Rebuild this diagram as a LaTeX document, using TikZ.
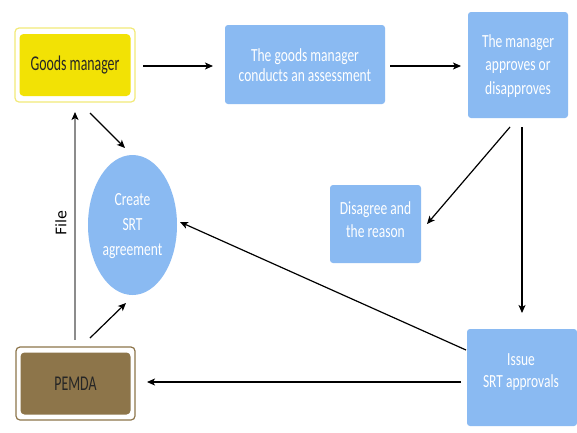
\documentclass[tikz,border=0pt]{standalone}
\usepackage{fontspec}
\setmainfont[FakeStretch=0.73]{Carlito}
\newfontfamily\narrowfont[FakeStretch=0.66]{Carlito}
\newfontfamily\filefont{DejaVu Sans}
\usetikzlibrary{arrows.meta,shapes.geometric}
\definecolor{lblue}{RGB}{138,186,242}
\definecolor{gyellow}{RGB}{242,226,5}
\definecolor{gyellowb}{RGB}{242,234,120}
\definecolor{pbrown}{RGB}{141,117,74}
\definecolor{pbrownb}{RGB}{141,117,74}
\tikzset{
  x=1pt,y=-1pt,
  bluebox/.style={fill=lblue,rounded corners=3pt},
  btext/.style={text=white,align=center,inner sep=0pt},
  arr/.style={-{Stealth[length=8pt,width=7pt,inset=2pt]},line width=1.2pt,black},
}
\begin{document}
\begin{tikzpicture}
\useasboundingbox (0,0) rectangle (577,432);
\fill[white] (0,0) rectangle (577,432);
% Goods manager
\draw[gyellowb,line width=1.2pt,fill=white,rounded corners=4pt] (15,28) rectangle (135,102);
\node[fill=gyellow,rounded corners=4pt,minimum width=111pt,minimum height=62pt,font=\narrowfont\fontsize{21}{24}\selectfont,text=black!85] (gm) at (75,65) {Goods manager};
% PEMDA
\draw[pbrownb,line width=1.2pt,fill=white,rounded corners=4pt] (16,347) rectangle (135,420);
\node[fill=pbrown,rounded corners=4pt,minimum width=110pt,minimum height=62pt,font=\narrowfont\fontsize{21}{24}\selectfont,text=black!85] (pe) at (75.5,383.5) {PEMDA};
% blue boxes
\path[bluebox] (225,25) rectangle (385,104);
\node[btext,font=\fontsize{18.5}{20.5}\selectfont] (ga) at (305,65) {The goods manager\\conducts an assessment};
\path[bluebox] (468,12) rectangle (568,118);
\node[btext,font=\fontsize{18.5}{23.5}\selectfont] (ma) at (518,66) {The manager\\approves or\\disapproves};
\path[bluebox] (330,185) rectangle (421,263);
\node[btext,font=\fontsize{18.5}{23}\selectfont] (dr) at (375.5,219.5) {Disagree and\\the reason};
\path[bluebox] (467,329) rectangle (577,426);
\node[btext,font=\fontsize{18.5}{22}\selectfont] (is) at (521,372) {Issue\\SRT approvals};
% ellipse
\node[ellipse,fill=lblue,minimum width=89pt,minimum height=140pt,inner sep=0pt] (cs) at (132.5,225) {};
\node[btext,font=\fontsize{18.5}{25}\selectfont] (cst) at (132.5,226.5) {Create\\SRT\\agreement};
% coordinates
\coordinate (a1s) at (143,66); \coordinate (a1e) at (213,66);
\coordinate (a2s) at (390,66); \coordinate (a2e) at (461,66);
\coordinate (gmb) at (90,113); \coordinate (ctop) at (125,148);
\coordinate (peb) at (90,338); \coordinate (cbot) at (126,303);
\coordinate (mab1) at (510,127); \coordinate (dre) at (427,224);
\coordinate (mab2) at (522,127); \coordinate (ise) at (522,313);
\coordinate (is1) at (466,350); \coordinate (csr) at (180,222);
\coordinate (is2) at (461,382); \coordinate (per) at (147,382);
\coordinate (fs) at (75,340); \coordinate (fe) at (75,112);
\draw[arr] (a1s) -- (a1e);
\draw[arr] (a2s) -- (a2e);
\draw[arr] (gmb) -- (ctop);
\draw[arr] (peb) -- (cbot);
\draw[arr] (mab1) -- (dre);
\draw[arr] (mab2) -- (ise);
\draw[arr] (is1) -- (csr);
\draw[arr] (is2) -- (per);
\draw[-{Stealth[length=8pt,width=7pt,inset=2pt,color=black]},line width=1.5pt,black!45] (fs) -- (fe);
\node[rotate=90,font=\filefont\fontsize{14.5}{16}\selectfont] (fl) at (61,223) {File};
\end{tikzpicture}
\end{document}
